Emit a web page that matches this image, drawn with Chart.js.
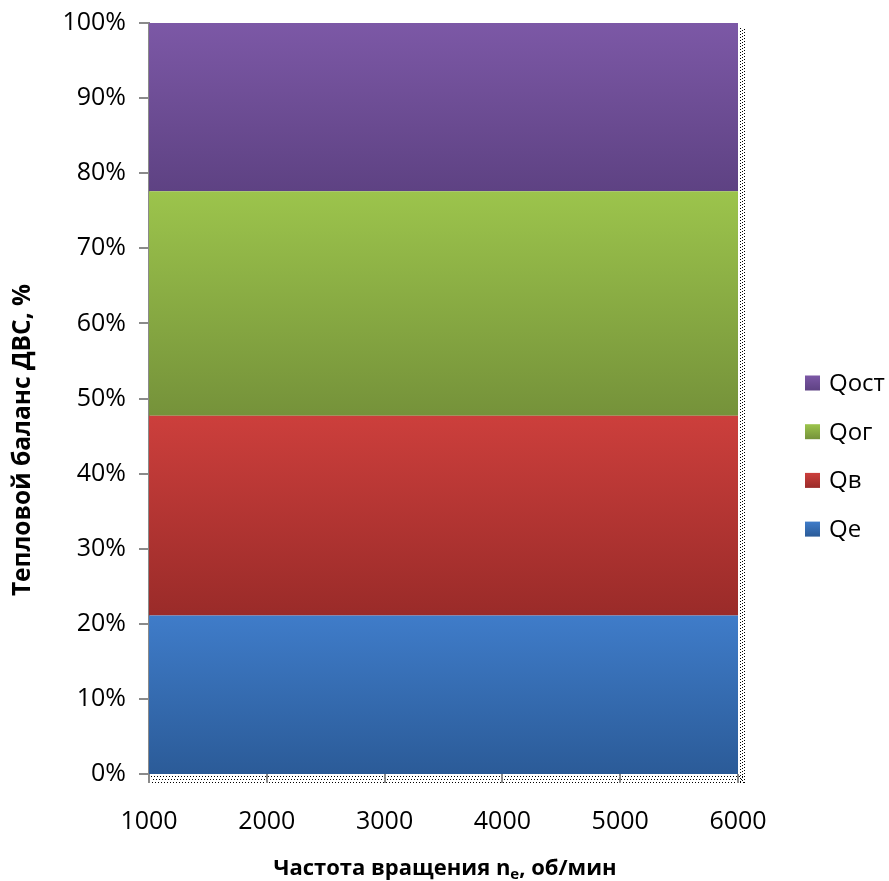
<!DOCTYPE html>
<html lang="ru">
<head>
<meta charset="UTF-8">
<title>Тепловой баланс ДВС</title>
<style>
  html, body { margin: 0; padding: 0; background: #fff; }
  #wrap { width: 889px; height: 881px; position: relative; }
</style>
</head>
<body>
<div id="wrap"><canvas id="balans"></canvas></div>

<script src="https://cdn.jsdelivr.net/npm/chart.js"></script>
<script>
// частота вращения, об/мин
const oboroty = [1000, 2000, 3000, 4000, 5000, 6000];

// доли теплового баланса, %
const qe   = [21.1, 21.1, 21.1, 21.1, 21.1, 21.1];
const qv   = [26.6, 26.6, 26.6, 26.6, 26.6, 26.6];
const qog  = [29.9, 29.9, 29.9, 29.9, 29.9, 29.9];
const qost = [22.4, 22.4, 22.4, 22.4, 22.4, 22.4];

const nazvaniya = ['Qe', 'Qв', 'Qог', 'Qост'];
const ryady = [qe, qv, qog, qost];

// цвета заливки: верх / низ градиента
const cvetVerh = ['#3f7cc9', '#cc3f3c', '#9cc44c', '#7c58a6'];
const cvetNiz  = ['#2b5b98', '#9a2b29', '#75923a', '#5e4283'];

const shrift = '"Open Sans", "DejaVu Sans", sans-serif';
const osColor = '#8a8a8a';

function zalivka(i) {
  return function (c) {
    const chart = c.chart;
    if (!chart.chartArea) return cvetVerh[i];
    const y = chart.scales.y;
    let niz = 0;
    for (let k = 0; k < i; k++) niz += ryady[k][0];
    const verh = niz + ryady[i][0];
    const g = chart.ctx.createLinearGradient(0, y.getPixelForValue(verh), 0, y.getPixelForValue(niz));
    g.addColorStop(0, cvetVerh[i]);
    g.addColorStop(1, cvetNiz[i]);
    return g;
  };
}

const naboryDannyh = ryady.map(function (ryad, i) {
  return {
    label: nazvaniya[i],
    data: ryad.map(function (v, j) { return { x: oboroty[j], y: v }; }),
    fill: i === 0 ? 'origin' : '-1',
    backgroundColor: zalivka(i),
    borderWidth: 0,
    pointRadius: 0,
    tension: 0
  };
});

// подписи осей, легенда и пунктирная рамка области построения
const oformlenie = {
  id: 'oformlenie',
  afterDraw(chart) {
    const ctx = chart.ctx;
    const a = chart.chartArea;
    ctx.save();

    // пунктирная рамка справа и снизу
    ctx.strokeStyle = '#000';
    ctx.lineWidth = 1;
    ctx.setLineDash([1, 2]);
    [a.right + 2.5, a.right + 4.5, a.right + 6.5].forEach(function (x, n) {
      ctx.lineDashOffset = n;
      ctx.beginPath(); ctx.moveTo(x, a.top + 5); ctx.lineTo(x, a.bottom + 9); ctx.stroke();
    });
    [a.bottom + 2.5, a.bottom + 5.5, a.bottom + 8.5].forEach(function (y, n) {
      ctx.lineDashOffset = n;
      ctx.beginPath(); ctx.moveTo(a.left + 2, y); ctx.lineTo(a.right + 6, y); ctx.stroke();
    });
    ctx.setLineDash([]);

    // засечки оси X поверх рамки
    ctx.strokeStyle = osColor;
    ctx.lineWidth = 2;
    oboroty.forEach(function (v) {
      const x = Math.round(chart.scales.x.getPixelForValue(v));
      ctx.beginPath(); ctx.moveTo(x, a.bottom); ctx.lineTo(x, a.bottom + 9); ctx.stroke();
    });

    ctx.fillStyle = '#000';

    // подпись оси Y
    ctx.font = 'bold 24.5px ' + shrift;
    ctx.textAlign = 'center';
    ctx.textBaseline = 'middle';
    ctx.save();
    ctx.translate(23, 440);
    ctx.rotate(-Math.PI / 2);
    ctx.fillText('Тепловой баланс ДВС, %', 0, 0);
    ctx.restore();

    // подпись оси X с нижним индексом
    const chast1 = 'Частота вращения n';
    const index = 'e';
    const chast2 = ', об/мин';
    const f1 = 'bold 22px ' + shrift;
    const f2 = 'bold 15px ' + shrift;
    ctx.textAlign = 'left';
    ctx.textBaseline = 'alphabetic';
    ctx.font = f1;
    const w1 = ctx.measureText(chast1).width;
    const w3 = ctx.measureText(chast2).width;
    ctx.font = f2;
    const w2 = ctx.measureText(index).width;
    let x0 = 445 - (w1 + w2 + w3) / 2;
    const yb = 875;
    ctx.font = f1; ctx.fillText(chast1, x0, yb); x0 += w1;
    ctx.font = f2; ctx.fillText(index, x0, yb + 4); x0 += w2;
    ctx.font = f1; ctx.fillText(chast2, x0, yb);

    // легенда (в обратном порядке)
    ctx.font = '24px ' + shrift;
    ctx.textBaseline = 'middle';
    const shag = 48.7;
    for (let n = 0; n < nazvaniya.length; n++) {
      const i = nazvaniya.length - 1 - n;
      const yc = 383 + n * shag;
      const g = ctx.createLinearGradient(0, yc - 7.5, 0, yc + 7.5);
      g.addColorStop(0, cvetVerh[i]);
      g.addColorStop(1, cvetNiz[i]);
      ctx.fillStyle = g;
      ctx.fillRect(805, yc - 7.5, 15, 15);
      ctx.fillStyle = '#000';
      ctx.fillText(nazvaniya[i], 829, yc + 1);
    }
    ctx.restore();
  }
};

new Chart(document.getElementById('balans'), {
  type: 'line',
  data: { datasets: naboryDannyh },
  options: {
    responsive: true,
    maintainAspectRatio: false,
    animation: false,
    layout: { padding: { left: 0, right: 151, top: 23, bottom: 0 } },
    plugins: {
      legend: { display: false },
      tooltip: { enabled: false },
      filler: { propagate: false }
    },
    scales: {
      x: {
        type: 'linear',
        min: 1000,
        max: 6000,
        afterFit(s) { s.height = 107; s.paddingLeft = 0; s.paddingRight = 0; },
        ticks: {
          stepSize: 1000,
          color: '#000',
          padding: 33,
          font: { family: shrift, size: 25 },
          callback: function (v) { return String(v); }
        },
        grid: { drawOnChartArea: false, drawTicks: false, tickLength: 9 },
        border: { display: false }
      },
      y: {
        stacked: true,
        min: 0,
        max: 100,
        afterFit(s) { s.width = 149; s.paddingTop = 0; s.paddingBottom = 0; },
        ticks: {
          stepSize: 10,
          color: '#000',
          padding: 13,
          font: { family: shrift, size: 25 },
          callback: function (v) { return v + '%'; }
        },
        grid: { drawOnChartArea: false, drawTicks: true, tickLength: 10, color: osColor, lineWidth: 2 },
        border: { display: true, color: osColor, width: 2 }
      }
    }
  },
  plugins: [oformlenie]
});
</script>
</body>
</html>
